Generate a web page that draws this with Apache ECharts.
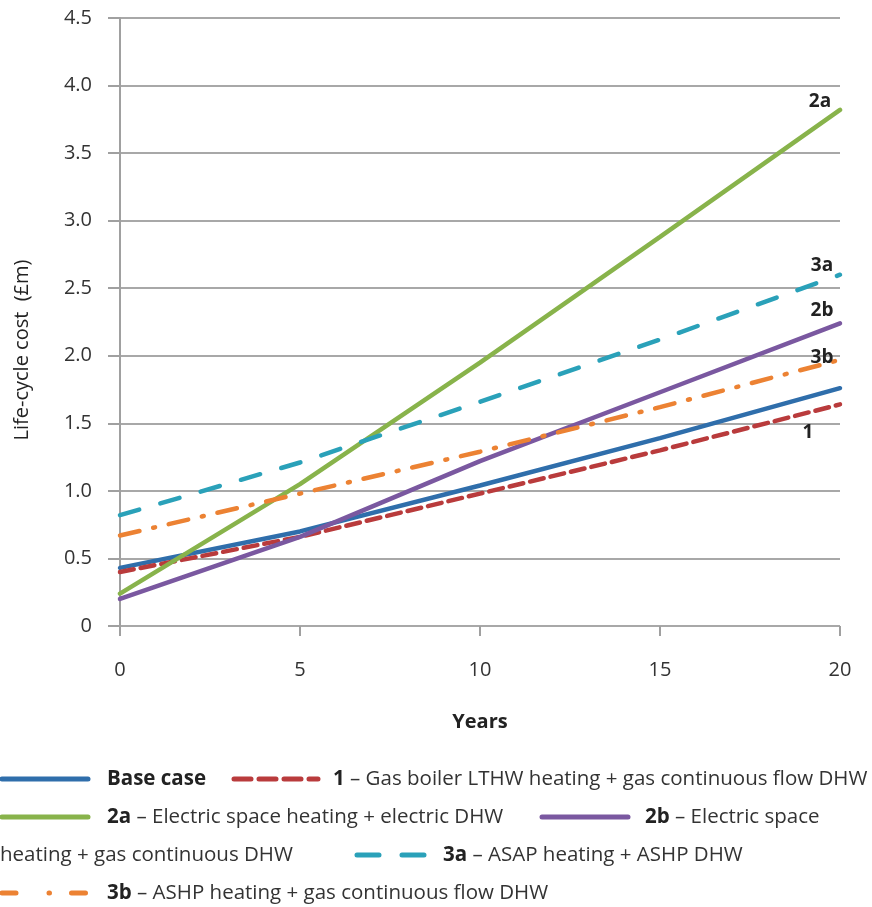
<!DOCTYPE html>
<html><head><meta charset="utf-8">
<script src="https://cdn.jsdelivr.net/npm/echarts@6/dist/echarts.min.js"></script>
<style>html,body{margin:0;padding:0;background:#fff}#c{width:872px;height:907px}</style>
</head><body><div id="c"></div>
<script>
const years = [0, 5, 10, 15, 20];
const baseCase = [0.43, 0.70, 1.04, 1.39, 1.76];
const opt1 = [0.40, 0.66, 0.98, 1.30, 1.64];
const opt2a = [0.24, 1.05, 1.95, 2.88, 3.82];
const opt2b = [0.20, 0.66, 1.22, 1.73, 2.24];
const opt3a = [0.82, 1.21, 1.66, 2.12, 2.60];
const opt3b = [0.67, 0.98, 1.29, 1.62, 1.97];
const yTicks = ['0','0.5','1.0','1.5','2.0','2.5','3.0','3.5','4.0','4.5'];
const FONT = 'Open Sans';
const C = {base:'#2f6eab', o1:'#b93b3c', o2a:'#88b34b', o2b:'#7a58a0', o3a:'#2aa1b9', o3b:'#ec8233'};

function mk(name, vals, color, dash, endLbl, lblPos) {
  return {
    type:'line', name, showSymbol:true, symbolSize:0, smooth:false,
    lineStyle:{color, width:4.5, type:dash, cap:'round'},
    itemStyle:{color},
    z: 3,
    data: vals.map((v,i)=>{
      const d = {value:[years[i], v]};
      if (endLbl && i===vals.length-1) {
        d.label = {show:true, formatter:endLbl, position:lblPos, align:'center', verticalAlign:'middle',
          fontFamily:FONT, fontWeight:'bold', fontSize:19, color:'#222'};
      }
      return d;
    })
  };
}

const chart = echarts.init(document.getElementById('c'));
const LF = 20.5;
const legendRows = [
  {y:779, x1:2, x2:88, tx:107, color:C.base, dash:null, bold:'Base case', text:''},
  {y:779, x1:234, x2:318, tx:333, color:C.o1, dash:[17,8], bold:'1', text:' – Gas boiler LTHW heating + gas continuous flow DHW'},
  {y:817, x1:2, x2:88, tx:107, color:C.o2a, dash:null, bold:'2a', text:' – Electric space heating + electric DHW'},
  {y:817, x1:542, x2:628, tx:645, color:C.o2b, dash:null, bold:'2b', text:' – Electric space'},
  {y:855, x1:357, x2:427, tx:443, color:C.o3a, dash:[22,23], bold:'3a', text:' – ASAP heating + ASHP DHW'},
  {y:893, x1:2, x2:88, tx:107, color:C.o3b, dash:[14,33,0.5,22], bold:'3b', text:' – ASHP heating + gas continuous flow DHW'}
];
const graphics = [];
legendRows.forEach(r=>{
  graphics.push({type:'line', shape:{x1:r.x1, y1:r.y, x2:r.x2, y2:r.y},
    style:{stroke:r.color, lineWidth:5, lineDash:r.dash, lineCap:'round'}});
  graphics.push({type:'text', x:r.tx, y:r.y, style:{
    text:'{b|'+r.bold+'}{n|'+r.text+'}', verticalAlign:'middle',
    rich:{b:{fontFamily:FONT, fontWeight:'bold', fontSize:LF, fill:'#222'},
          n:{fontFamily:FONT, fontSize:LF, fill:'#333'}}}});
});
graphics.push({type:'text', x:0, y:855, style:{text:'heating + gas continuous DHW', verticalAlign:'middle',
  fontFamily:FONT, fontSize:LF, fill:'#333'}});
graphics.push({type:'text', x:22, y:350, rotation:Math.PI/2, style:{text:'Life-cycle cost  (£m)',
  align:'center', verticalAlign:'middle', fontFamily:FONT, fontSize:20, fill:'#222'}});

chart.setOption({
  animation:false,
  backgroundColor:'#fff',
  grid:{left:120, right:32, top:18, bottom:281, containLabel:false},
  xAxis:{type:'value', min:0, max:20, interval:5,
    name:'Years', nameLocation:'middle', nameGap:86,
    nameTextStyle:{fontFamily:FONT, fontWeight:'bold', fontSize:20, color:'#222'},
    axisLine:{show:false},
    axisTick:{show:true, length:10, lineStyle:{color:'#a0a0a0', width:2}},
    axisLabel:{fontFamily:FONT, fontSize:20, color:'#333', margin:34},
    splitLine:{show:false}
  },
  yAxis:{type:'value', min:0, max:4.5, interval:0.5,
    axisLine:{show:true, lineStyle:{color:'#a0a0a0', width:2}},
    axisTick:{show:true, length:12, lineStyle:{color:'#a0a0a0', width:2}},
    axisLabel:{fontFamily:FONT, fontSize:20, color:'#333', margin:28,
      formatter:(v)=>yTicks[Math.round(v/0.5)]},
    splitLine:{show:true, lineStyle:{color:'#a8a8a8', width:2}}
  },
  series:[
    mk('Base case', baseCase, C.base, 'solid', null),
    mk('1', opt1, C.o1, [14,7], '1', [-32, 28]),
    mk('2a', opt2a, C.o2a, 'solid', '2a', [-20, -8]),
    mk('2b', opt2b, C.o2b, 'solid', '2b', [-18, -13]),
    mk('3a', opt3a, C.o3a, [20,22], '3a', [-18, -9]),
    mk('3b', opt3b, C.o3b, [20,14,2,14], '3b', [-18, -2])
  ],
  graphic:graphics
});
</script></body></html>
